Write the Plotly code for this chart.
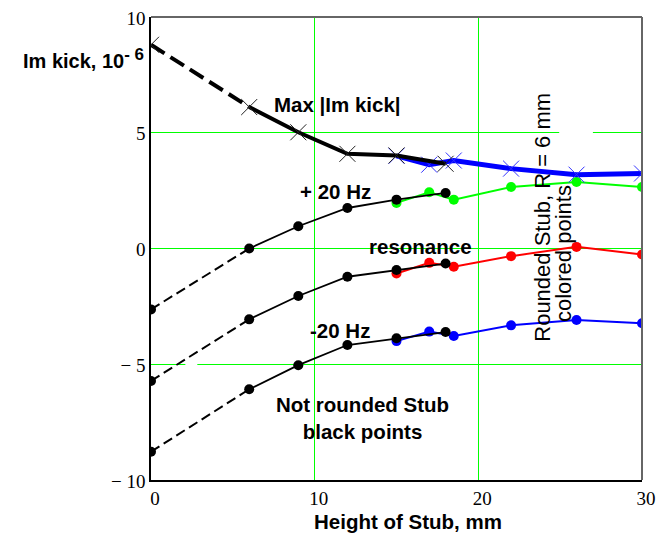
import plotly.graph_objects as go

# ---- data ----
x_black = [0, 6, 9, 12, 15, 18]
x_color = [15, 17, 18.5, 22, 26, 30]

max_black = [8.8, 6.11, 5.02, 4.09, 4.02, 3.66]
max_blue = [4.0, 3.62, 3.8, 3.45, 3.19, 3.24]

plus20_black = [-2.63, 0.0, 0.96, 1.75, 2.11, 2.4]
plus20_green = [1.97, 2.43, 2.11, 2.66, 2.87, 2.66]

res_black = [-5.72, -3.06, -2.05, -1.22, -0.93, -0.65]
res_red = [-1.08, -0.62, -0.79, -0.33, 0.07, -0.26]

minus20_black = [-8.78, -6.08, -5.04, -4.17, -3.88, -3.61]
minus20_blue = [-4.0, -3.59, -3.78, -3.32, -3.09, -3.23]

x_ticks = [0, 10, 20, 30]
x_ticktext = ["0", "10", "20", "30"]
y_ticks = [-10, -5, 0, 5, 10]
y_ticktext = ["\u2212 10", "\u2212 5", "0", "5", "10"]

SANS = "Arial, 'Liberation Sans', sans-serif"
SERIF = "'Times New Roman', 'Liberation Serif', serif"
GRID = "#00ff00"

fig = go.Figure()

# colored (rounded stub) series first
for ys, col in [(plus20_green, "#00ff00"), (res_red, "#ff0000"), (minus20_blue, "#0000ff")]:
    fig.add_trace(go.Scatter(x=x_color, y=ys, mode="lines+markers",
                             line=dict(color=col, width=2),
                             marker=dict(color=col, size=10, symbol="circle"),
                             showlegend=False))

# blue max line with crosses
fig.add_trace(go.Scatter(x=x_color, y=max_blue, mode="lines+markers",
                         line=dict(color="#0000ff", width=5),
                         marker=dict(color="#3333ff", size=16, symbol="x-thin-open",
                                     line=dict(color="#3333ff", width=1)),
                         showlegend=False))

# black max line: dashed first segment, solid rest
fig.add_trace(go.Scatter(x=x_black[:2], y=max_black[:2], mode="lines",
                         line=dict(color="black", width=4, dash="16px,7px"),
                         showlegend=False))
fig.add_trace(go.Scatter(x=x_black[1:], y=max_black[1:], mode="lines",
                         line=dict(color="black", width=4),
                         showlegend=False))
fig.add_trace(go.Scatter(x=x_black, y=max_black, mode="markers",
                         marker=dict(color="#222222", size=16, symbol="x-thin-open",
                                     line=dict(color="#222222", width=1)),
                         showlegend=False))

# black (not rounded stub) series
for ys in [plus20_black, res_black, minus20_black]:
    fig.add_trace(go.Scatter(x=x_black[:2], y=ys[:2], mode="lines",
                             line=dict(color="black", width=2, dash="10px,5px"),
                             showlegend=False))
    fig.add_trace(go.Scatter(x=x_black[1:], y=ys[1:], mode="lines",
                             line=dict(color="black", width=1.8),
                             showlegend=False))
    fig.add_trace(go.Scatter(x=x_black, y=ys, mode="markers",
                             marker=dict(color="black", size=10, symbol="circle"),
                             showlegend=False))

ann_font = dict(family=SANS, size=20.5, color="black")
rot_font = dict(family=SANS, size=22, color="black")
annotations = [
    dict(x=7.4, y=6.21, text="<b>Max |Im kick|</b>", xanchor="left", yanchor="middle", font=ann_font),
    dict(x=8.98, y=2.46, text="<b>+ 20 Hz</b>", xanchor="left", yanchor="middle", font=ann_font),
    dict(x=13.18, y=0.09, text="<b>resonance</b>", xanchor="left", yanchor="middle", font=ann_font),
    dict(x=9.59, y=-3.53, text="<b>-20 Hz</b>", xanchor="left", yanchor="middle", font=ann_font),
    dict(x=12.94, y=-7.3, text="<b>Not rounded Stub<br>black points</b>", xanchor="center",
         yanchor="middle", font=ann_font),
    dict(x=23.92, y=1.35, text="Rounded Stub, R = 6 mm", textangle=-90,
         xanchor="center", yanchor="middle", font=rot_font),
    dict(x=25.17, y=-0.2, text="colored points", textangle=-90,
         xanchor="center", yanchor="middle", font=rot_font),
]
for a in annotations:
    a.update(xref="x", yref="y", showarrow=False)

annotations.append(dict(xref="paper", yref="paper", x=-0.265, y=0.91,
                        text="<b>Im kick, 10<sup><span style='font-size:17px'>- 6</span></sup></b>",
                        xanchor="left", yanchor="middle",
                        showarrow=False, font=dict(family=SANS, size=20, color="black")))
annotations.append(dict(xref="paper", yref="paper", x=0.523, y=-0.0905,
                        text="<b>Height of Stub, mm</b>", xanchor="center", yanchor="middle",
                        showarrow=False, font=ann_font))

shapes = [
    # white gaps in grid lines (text-box artifacts)
    dict(type="rect", xref="x", yref="y", x0=24.94, x1=27.0, y0=4.93, y1=5.07,
         fillcolor="white", line=dict(width=0), layer="between"),
    dict(type="rect", xref="x", yref="y", x0=2.1, x1=2.83, y0=-5.07, y1=-4.93,
         fillcolor="white", line=dict(width=0), layer="between"),
    # gray top and right frame
    dict(type="line", xref="paper", yref="paper", x0=0, x1=1, y0=1, y1=1,
         line=dict(color="#666666", width=2), layer="above"),
    dict(type="line", xref="paper", yref="paper", x0=1, x1=1, y0=0, y1=1,
         line=dict(color="#666666", width=2), layer="above"),
]

fig.update_layout(
    width=656, height=536,
    margin=dict(l=150.5, r=13.5, t=16.5, b=55.5, autoexpand=False),
    paper_bgcolor="white", plot_bgcolor="white",
    showlegend=False,
    annotations=annotations,
    shapes=shapes,
    xaxis=dict(range=[0, 30], tickvals=x_ticks, ticktext=x_ticktext,
               showgrid=True, gridcolor=GRID, gridwidth=1, zeroline=False,
               showline=True, linecolor="black", linewidth=1.5,
               ticks="", tickfont=dict(family=SERIF, size=19, color="black"),
               ticklabelshift=4, ticklabelstandoff=0, ticklabeloverflow="allow",
               automargin=False),
    yaxis=dict(range=[-10, 10], tickvals=y_ticks, ticktext=y_ticktext,
               showgrid=True, gridcolor=GRID, gridwidth=1, zeroline=False,
               showline=True, linecolor="black", linewidth=1.5,
               ticks="", tickfont=dict(family=SERIF, size=19, color="black"),
               ticklabelshift=1, ticklabelstandoff=0, automargin=False),
)

fig.write_html("out.html")
